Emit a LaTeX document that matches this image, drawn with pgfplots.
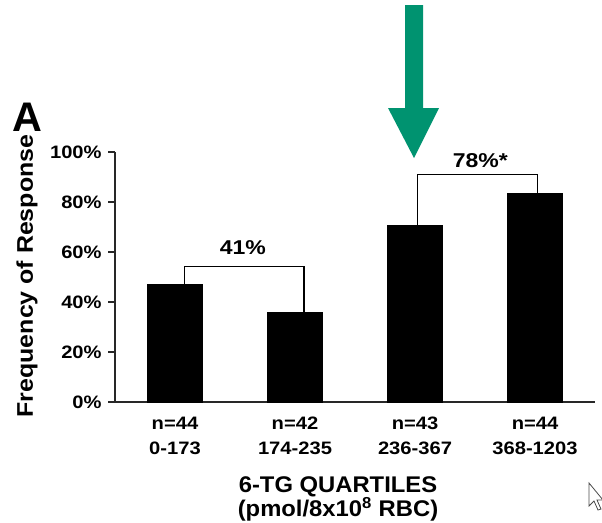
\documentclass[border=0pt]{standalone}
\usepackage{pgfplots}
\pgfplotsset{compat=1.18}
\usepackage{fontspec}
\setmainfont{Liberation Sans}
\definecolor{arrowgreen}{RGB}{0,147,112}
\definecolor{axisgray}{RGB}{40,40,40}
% horizontally widened text, as in the printed figure
\newcommand{\wide}[2][1.12]{\scalebox{#1}[1]{#2}}

\begin{document}
\begin{tikzpicture}
\useasboundingbox (0,0) rectangle (451.5pt,-391.5pt);

\begin{axis}[
  at={(86.25pt,-301.5pt)}, anchor=south west,
  scale only axis, width=360pt, height=187.5pt,
  xmin=-0.5, xmax=3.5, ymin=0, ymax=100,
  axis x line*=bottom, axis y line*=left,
  axis line style={line width=1pt, axisgray},
  tick align=outside, major tick length=5pt,
  ytick={0,20,40,60,80,100},
  yticklabels={\wide{0\%},\wide{20\%},\wide{40\%},\wide{60\%},\wide{80\%},\wide{100\%}},
  yticklabel style={font=\fontsize{13.5}{16}\selectfont\bfseries, anchor=east, xshift=-1.5pt},
  y tick style={line width=1pt, axisgray},
  xtick={0,1,2,3},
  xticklabels={{\wide{n=44}\\\wide{0-173}},{\wide{n=42}\\\wide{174-235}},
               {\wide{n=43}\\\wide{236-367}},{\wide{n=44}\\\wide{368-1203}}},
  xticklabel style={font=\fontsize{13.5}{18.75}\selectfont\bfseries, align=center, yshift=-3pt},
  x tick style={draw=none},
  clip=false,
]
% response frequency per 6-TG quartile
\addplot[ybar, bar width=0.457, fill=black, draw=black]
  coordinates {(0,47.2) (1,35.9) (2,70.7) (3,83.5)};

% comparison brackets between adjacent quartiles
\addplot[sharp plot, mark=none, black, line width=0.9pt]
  coordinates {(0.077,47.2) (0.077,54.1) (1.075,54.1) (1.075,35.9)};
\addplot[sharp plot, mark=none, black, line width=0.9pt]
  coordinates {(2.02,70.7) (2.02,91.1) (3.02,91.1) (3.02,83.5)};

\node[font=\fontsize{15}{17}\selectfont\bfseries] at (axis cs:0.565,61.6) {\wide[1.15]{41\%}};
\node[font=\fontsize{15}{17}\selectfont\bfseries] at (axis cs:2.544,96.6) {\wide[1.15]{78\%*}};
\end{axis}

% panel letter
\node[font=\fontsize{31}{31}\selectfont\bfseries] at (20.6pt,-87.75pt) {A};

% y-axis title
\node[rotate=90, font=\fontsize{17}{20}\selectfont\bfseries] at (20.25pt,-207pt)
  {\scalebox{1.1}[1]{Frequency of Response}};

% x-axis title
\node[anchor=base, font=\fontsize{17}{20}\selectfont\bfseries] at (253.5pt,-369pt)
  {\wide[1.05]{6-TG QUARTILES}};
\node[anchor=base, font=\fontsize{17}{20}\selectfont\bfseries] at (253.5pt,-387.5pt)
  {\wide[1.05]{(pmol/8x10\textsuperscript{8} RBC)}};

% highlight arrow above the third quartile
\fill[arrowgreen] (303.75pt,-3.75pt) -- (317.25pt,-3.75pt) -- (317.25pt,-81pt)
  -- (329.25pt,-81pt) -- (310.5pt,-118.5pt) -- (291pt,-81pt) -- (303.75pt,-81pt) -- cycle;

% pointer outline
\draw[black!70, line width=0.6pt, line join=miter]
  (441.75pt,-362.25pt) -- (441.75pt,-379.5pt) -- (445.5pt,-375.75pt)
  -- (448.5pt,-382.5pt) -- (450.75pt,-381.75pt) -- (447.75pt,-375pt)
  -- (452.25pt,-375pt) -- cycle;
\end{tikzpicture}
\end{document}
